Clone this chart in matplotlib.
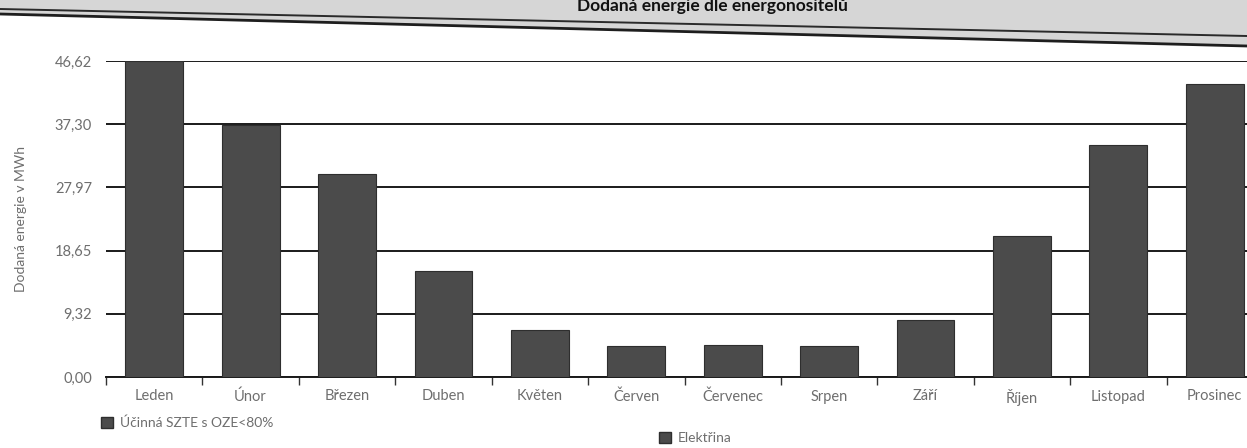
import matplotlib
matplotlib.use("Agg")
import matplotlib.pyplot as plt
from matplotlib.patches import Patch, Polygon
from matplotlib.lines import Line2D
import numpy as np

# data (MWh)
months = ["Leden", "Únor", "Březen", "Duben", "Květen", "Červen",
          "Červenec", "Srpen", "Září", "Říjen", "Listopad", "Prosinec"]
energy = [46.62, 37.2, 30.0, 15.7, 7.0, 4.6, 4.7, 4.5, 8.4, 20.8, 34.3, 43.2]
yticks = [0.00, 9.32, 18.65, 27.97, 37.30, 46.62]
ytick_labels = ["0,00", "9,32", "18,65", "27,97", "37,30", "46,62"]
legend_labels = ["Účinná SZTE s OZE<80%", "Elektřina"]
title = "Dodaná energie dle energonositelů"

bar_color = "#4b4b4b"
text_color = "#6e6e6e"

plt.rcParams["font.family"] = ["Lato", "DejaVu Sans"]

fig = plt.figure(figsize=(12.47, 4.48), dpi=100)
fig.patch.set_facecolor("white")

# grey scanner band at top with its dark edges
W, H = 1247, 448
band = Polygon([(0, 1), (1, 1), (1, 1 - 46 / H), (0, 1 - 14 / H)],
               closed=True, transform=fig.transFigure,
               facecolor="#d6d6d6", edgecolor="none", zorder=0)
fig.patches.append(band)
fig.lines.append(Line2D([0, 1], [1 - 14 / H, 1 - 46 / H], transform=fig.transFigure,
                        color="#1e1e1e", lw=2.0))
fig.lines.append(Line2D([0, 1], [1 - 9 / H, 1 - 36 / H], transform=fig.transFigure,
                        color="#2a2a2a", lw=1.4))
fig.text(848 / W, 1 - 6 / H, title, ha="right", va="center",
         fontsize=12.5, fontweight="bold", color="#111111")

ax = fig.add_axes([106 / W, 1 - 377 / H, 1157 / W, 316 / H])
x = np.arange(len(months))
ax.bar(x, energy, width=0.6, color=bar_color, edgecolor="#2e2e2e",
       linewidth=0.8, zorder=3)

ax.set_xlim(-0.5, len(months) - 0.5)
ax.set_ylim(0, 46.62)
ax.set_yticks(yticks)
ax.set_yticklabels(ytick_labels)
ax.yaxis.grid(True, color="#1a1a1a", linewidth=1.4, zorder=1)
ax.set_axisbelow(True)

ax.set_xticks(x)
ax.set_xticklabels(months)
ax.set_xticks(np.arange(-0.5, len(months)), minor=True)
ax.tick_params(axis="x", which="major", length=0, pad=9, labelsize=10.5,
               labelcolor=text_color)
ax.tick_params(axis="x", which="minor", length=6, width=1, color="#333333",
               direction="out")
ax.tick_params(axis="y", length=0, pad=10, labelsize=10.5, labelcolor=text_color)

for side in ["top", "right", "left"]:
    ax.spines[side].set_visible(False)
ax.spines["bottom"].set_color("#1a1a1a")
ax.spines["bottom"].set_linewidth(1.4)

ax.set_ylabel("Dodaná energie v MWh", fontsize=10, color=text_color, labelpad=20)

# legend entries (both in the same dark grey)
fig.legend(handles=[Patch(facecolor=bar_color, edgecolor="#2e2e2e")],
           labels=[legend_labels[0]], loc="center left",
           bbox_to_anchor=(88 / W, 1 - 423 / H), frameon=False,
           fontsize=10, handlelength=0.9, handleheight=0.9,
           handletextpad=0.5, labelcolor=text_color)
fig.legend(handles=[Patch(facecolor=bar_color, edgecolor="#2e2e2e")],
           labels=[legend_labels[1]], loc="center left",
           bbox_to_anchor=(646 / W, 1 - 438 / H), frameon=False,
           fontsize=10, handlelength=0.9, handleheight=0.9,
           handletextpad=0.5, labelcolor=text_color)

fig.savefig("out.png", dpi=100)
